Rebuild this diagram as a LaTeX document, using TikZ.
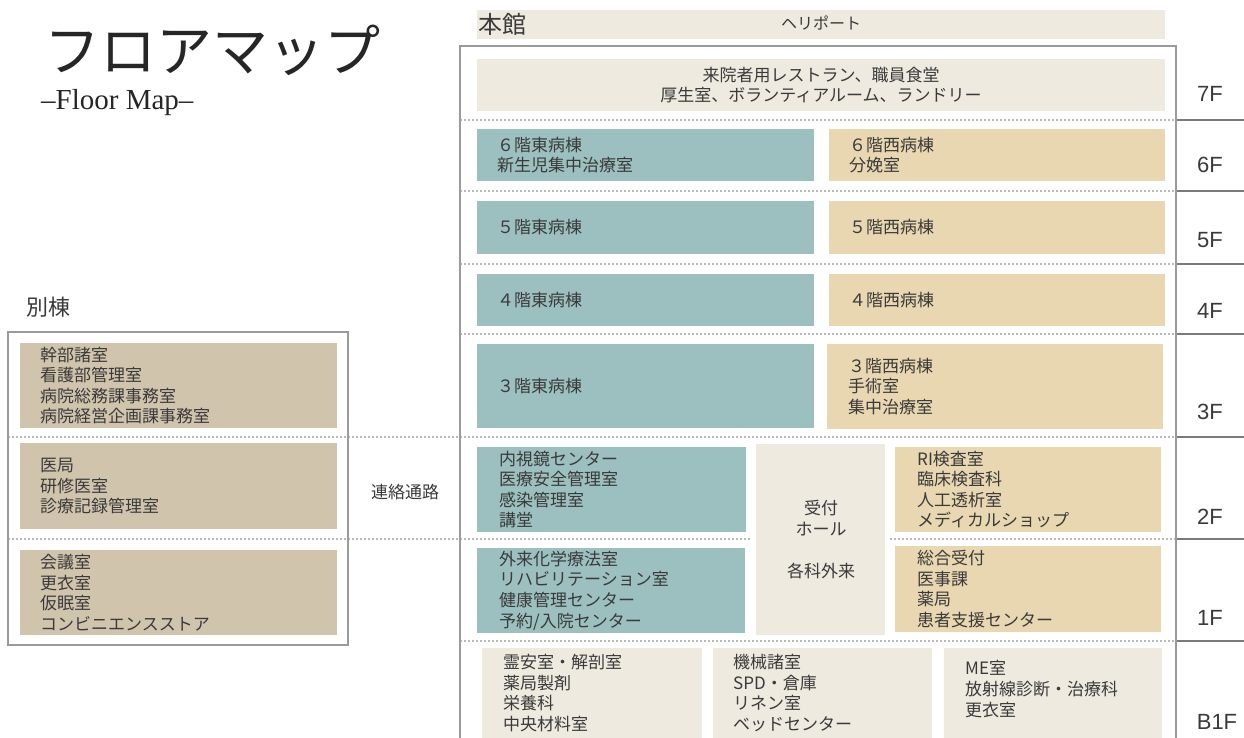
\documentclass[tikz,border=0pt]{standalone}
\usepackage{fontspec}
\setmainfont{Noto Sans CJK JP}
\newfontfamily\latinsans{Liberation Sans}
\newfontfamily\latinserif{Liberation Serif}
\definecolor{eastc}{HTML}{9BC0BF}
\definecolor{westc}{HTML}{E8D7B0}
\definecolor{creamc}{HTML}{EEEAE0}
\definecolor{annexc}{HTML}{D1C4AD}
\definecolor{txtc}{HTML}{3A3A3A}
\definecolor{framec}{HTML}{9A9A9A}
\definecolor{dotc}{HTML}{B8B8B8}
\definecolor{floorc}{HTML}{7A7A7A}
\tikzset{
  roombox/.style={rectangle, draw=none, inner sep=0pt, anchor=north west},
  roomtext/.style={anchor=west, inner sep=0pt, align=left, text=txtc, font=\fontsize{17}{20.6}\selectfont},
  ctext/.style={anchor=center, inner sep=0pt, align=center, text=txtc, font=\fontsize{17}{20.6}\selectfont},
  floorlabel/.style={anchor=center, inner sep=0pt, text=txtc, font=\latinsans\fontsize{22}{24}\selectfont},
  floordots/.style={draw=dotc, line width=2.6pt, dash pattern=on 2.2pt off 1.8pt},
  floorline/.style={draw=floorc, line width=2pt},
  framed/.style={draw=framec, line width=1.6pt},
}
\newcommand\mkroom[8]{%
  \node[roombox, fill=#2, minimum width=#5-#3, minimum height=#6-#4] (#1) at (#3,#4) {};
  \node[roomtext] (#1-t) at ({#3+#7},{(#4+#6)/2}) {#8};
}
\begin{document}
\begin{tikzpicture}[x=1pt,y=-1pt]
\useasboundingbox (0,0) rectangle (1244,738);
\clip (0,0) rectangle (1244,738);
\fill[white] (0,0) rectangle (1244,738);

% title
\node[anchor=west, inner sep=0pt, text=black!85, font=\fontsize{56}{60}\selectfont] (title) at (44,50) {フロアマップ};
\node[anchor=west, inner sep=0pt, text=black!85, font=\latinserif\fontsize{29}{32}\selectfont] (subtitle) at (41,103) {–Floor Map–};

% dotted floor separators
\draw[floordots] (460,120) -- (1176,120);
\draw[floordots] (460,191) -- (1176,191);
\draw[floordots] (460,264) -- (1176,264);
\draw[floordots] (460,334) -- (1176,334);
\draw[floordots] (8,437) -- (1176,437);
\draw[floordots] (8,539) -- (750,539);
\draw[floordots] (890,539) -- (1176,539);
\draw[floordots] (460,641) -- (1176,641);

% solid floor lines on the right
\foreach \yy in {120,191,264,334,437,539,641}
  \draw[floorline] (1176,\yy) -- (1244,\yy);

% main building frame
\draw[framed] (460,740) -- (460,46) -- (1176,46) -- (1176,740);

% heliport
\node[roombox, fill=creamc, minimum width=688, minimum height=29] (heli) at (477,10) {};
\node[anchor=west, inner sep=0pt, text=txtc, font=\fontsize{24}{26}\selectfont] (honkan) at (478,24) {本館};
\node[ctext, font=\fontsize{16}{20}\selectfont] (heli-t) at (821,23) {ヘリポート};

% 7F
\node[roombox, fill=creamc, minimum width=688, minimum height=52] (r7) at (477,59) {};
\node[ctext] (r7-t) at (821,85) {来院者用レストラン、職員食堂\\厚生室、ボランティアルーム、ランドリー};

% 6F - 3F
\mkroom{e6}{eastc}{477}{129}{814}{181}{20}{６階東病棟\\新生児集中治療室}
\mkroom{w6}{westc}{829}{129}{1165}{181}{20}{６階西病棟\\分娩室}
\mkroom{e5}{eastc}{477}{201}{814}{254}{20}{５階東病棟}
\mkroom{w5}{westc}{829}{201}{1165}{254}{20}{５階西病棟}
\mkroom{e4}{eastc}{477}{274}{814}{326}{20}{４階東病棟}
\mkroom{w4}{westc}{829}{274}{1165}{326}{20}{４階西病棟}
\mkroom{e3}{eastc}{477}{344}{814}{428}{20}{３階東病棟}
\mkroom{w3}{westc}{827}{344}{1163}{429}{21}{３階西病棟\\手術室\\集中治療室}

% 2F / 1F
\mkroom{e2}{eastc}{477}{447}{746}{532}{22}{内視鏡センター\\医療安全管理室\\感染管理室\\講堂}
\mkroom{w2}{westc}{895}{447}{1161}{532}{22}{RI検査室\\臨床検査科\\人工透析室\\メディカルショップ}
\node[roombox, fill=creamc, minimum width=129, minimum height=191] (hall) at (756,444) {};
\node[ctext] (hall-t) at (821,518) {受付\\ホール};
\node[ctext] (hall-o) at (821,571) {各科外来};
\mkroom{e1}{eastc}{477}{548}{745}{633}{22}{外来化学療法室\\リハビリテーション室\\健康管理センター\\予約/入院センター}
\mkroom{w1}{westc}{895}{546}{1161}{632}{22}{総合受付\\医事課\\薬局\\患者支援センター}

% B1F
\mkroom{b1}{creamc}{482}{648}{702}{738}{21}{霊安室・解剖室\\薬局製剤\\栄養科\\中央材料室}
\mkroom{b2}{creamc}{713}{648}{932}{738}{20}{機械諸室\\SPD・倉庫\\リネン室\\ベッドセンター}
\node[roombox, fill=creamc, minimum width=218, minimum height=92] (b3) at (944,648) {};
\node[roomtext] (b3-t) at (965,689) {ME室\\放射線診断・治療科\\更衣室};

% floor labels
\node[floorlabel] (f7) at (1210,94) {7F};
\node[floorlabel] (f6) at (1210,165) {6F};
\node[floorlabel] (f5) at (1210,240) {5F};
\node[floorlabel] (f4) at (1210,311) {4F};
\node[floorlabel] (f3) at (1210,412) {3F};
\node[floorlabel] (f2) at (1210,517) {2F};
\node[floorlabel] (f1) at (1210,618) {1F};
\node[floorlabel] (fb1) at (1217,722) {B1F};

% annex
\node[anchor=west, inner sep=0pt, text=txtc, font=\fontsize{22}{24}\selectfont] (bettou) at (26,307) {別棟};
\draw[framed] (8,332) rectangle (348,645);
\mkroom{a1}{annexc}{20}{343}{337}{428}{20}{幹部諸室\\看護部管理室\\病院総務課事務室\\病院経営企画課事務室}
\mkroom{a2}{annexc}{20}{443}{337}{529}{20}{医局\\研修医室\\診療記録管理室}
\mkroom{a3}{annexc}{20}{550}{337}{635}{20}{会議室\\更衣室\\仮眠室\\コンビニエンスストア}
\node[ctext] (renraku) at (405,492) {連絡通路};
\end{tikzpicture}
\end{document}
